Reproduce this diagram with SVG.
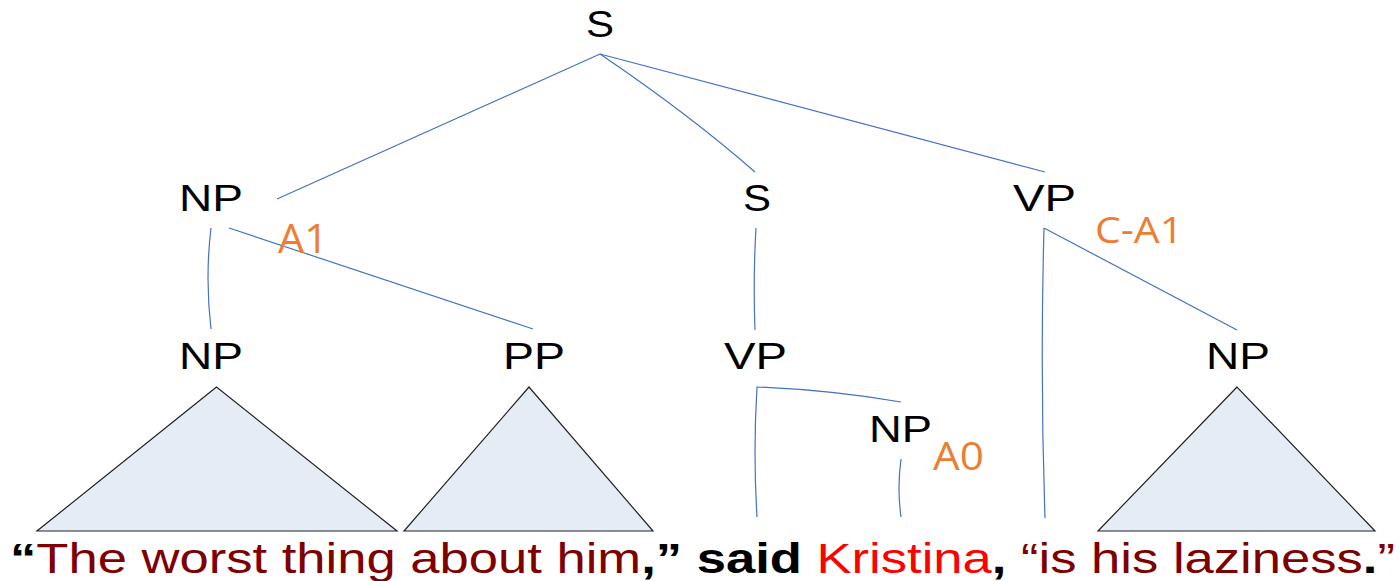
<svg xmlns="http://www.w3.org/2000/svg" width="1399" height="581" viewBox="0 0 1399 581">
<style>
.lbl{font-family:"Liberation Sans",Arial,sans-serif;font-size:36px;fill:#000}
.role{font-family:"Open Sans","Liberation Sans",sans-serif;fill:#ED7D31}
.edge{fill:none;stroke:#4472C4;stroke-width:1.2}
.tri{fill:#E6ECF6;stroke:#222;stroke-width:1.2;stroke-linejoin:miter}
.sent{font-family:"Liberation Sans",Arial,sans-serif;font-size:42px}
.dr{fill:#7F0000}
.rd{fill:#FF0000}
.bk{fill:#000;font-weight:bold}
</style>
<rect width="1399" height="581" fill="#fff"/>
<g id="connectors">
<path class="edge" d="M600,54 L277,199"/>
<path class="edge" d="M600,54 Q690,115 755,172"/>
<path class="edge" d="M600,54 L1045,172"/>
<path class="edge" d="M211,228 Q205,278 211,329"/>
<path class="edge" d="M229,228 L533,329"/>
<path class="edge" d="M756,228 Q753,280 755,330"/>
<path class="edge" d="M1044,228 L1237,330"/>
<path class="edge" d="M1044,228 Q1040,373 1045,518"/>
<path class="edge" d="M901,402 Q830,390 757,387 Q753,452 757,517"/>
<path class="edge" d="M901,459 Q897,488 901,517"/>
</g>
<g id="tri-np1"><polygon class="tri" points="216.5,387 37,531 397,531"/></g>
<g id="tri-pp"><polygon class="tri" points="529,387 404,531 653,531"/></g>
<g id="tri-np4"><polygon class="tri" points="1237,387 1098,531 1375,531"/></g>
<g id="node-s-top"><text class="lbl" x="586" y="37" textLength="28" lengthAdjust="spacingAndGlyphs">S</text></g>
<g id="node-np-a1"><text class="lbl" x="179" y="211" textLength="64" lengthAdjust="spacingAndGlyphs">NP</text>
<text class="role" x="278" y="253" font-size="41" textLength="50" lengthAdjust="spacingAndGlyphs">A1</text></g>
<g id="node-s-mid"><text class="lbl" x="743" y="211" textLength="28" lengthAdjust="spacingAndGlyphs">S</text></g>
<g id="node-vp-ca1"><text class="lbl" x="1013" y="211" textLength="63" lengthAdjust="spacingAndGlyphs">VP</text>
<text class="role" x="1095" y="243" font-size="37" textLength="88" lengthAdjust="spacingAndGlyphs">C-A1</text></g>
<g id="node-np-l3"><text class="lbl" x="179" y="369" textLength="64" lengthAdjust="spacingAndGlyphs">NP</text></g>
<g id="node-pp"><text class="lbl" x="503" y="369" textLength="62" lengthAdjust="spacingAndGlyphs">PP</text></g>
<g id="node-vp-l3"><text class="lbl" x="724" y="369" textLength="63" lengthAdjust="spacingAndGlyphs">VP</text></g>
<g id="node-np-a0"><text class="lbl" x="869" y="442" textLength="63" lengthAdjust="spacingAndGlyphs">NP</text>
<text class="role" x="933" y="470" font-size="39" textLength="51" lengthAdjust="spacingAndGlyphs">A0</text></g>
<g id="node-np-r"><text class="lbl" x="1206" y="369" textLength="64" lengthAdjust="spacingAndGlyphs">NP</text></g>
<g id="sentence"><text class="sent" x="10" y="573" textLength="1385" lengthAdjust="spacingAndGlyphs"><tspan class="bk">“</tspan><tspan class="dr">The worst thing about him</tspan><tspan class="bk">,” said </tspan><tspan class="rd">Kristina</tspan><tspan class="bk">, </tspan><tspan class="dr">“is his laziness</tspan><tspan class="bk">.</tspan><tspan class="dr">”</tspan></text></g>
</svg>
